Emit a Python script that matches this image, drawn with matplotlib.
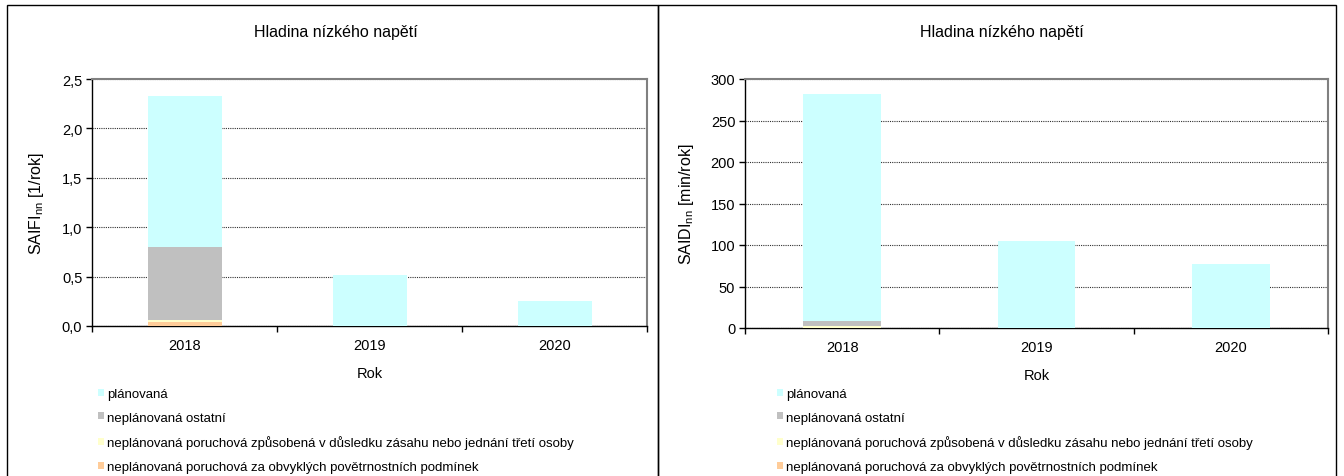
import matplotlib
matplotlib.use("Agg")
import matplotlib.pyplot as plt
from matplotlib.patches import Rectangle
from matplotlib.ticker import FixedLocator, FuncFormatter

plt.rcParams['font.family'] = ['Liberation Sans', 'DejaVu Sans']

years = ["2018", "2019", "2020"]
series_names = [
    "neplánovaná poruchová za obvyklých povětrnostních podmínek",
    "neplánovaná poruchová způsobená v důsledku zásahu nebo jednání třetí osoby",
    "neplánovaná ostatní",
    "plánovaná",
]
colors = ["#FFCC99", "#FFFFCC", "#C0C0C0", "#CCFFFF"]

saifi_pocasi = [0.04, 0.0, 0.0]
saifi_treti = [0.02, 0.0, 0.0]
saifi_ostatni = [0.74, 0.0, 0.0]
saifi_planovana = [1.53, 0.52, 0.25]

saidi_pocasi = [0.5, 0.0, 0.0]
saidi_treti = [2.0, 0.0, 0.0]
saidi_ostatni = [5.5, 0.0, 0.0]
saidi_planovana = [274.0, 105.0, 77.0]

panel_title = "Hladina nízkého napětí"
x_label = "Rok"

W, H = 1344, 477
fig = plt.figure(figsize=(W / 100, H / 100), dpi=100)


def fx(px):
    return px / W


def fy(py):
    return 1 - py / H


# panel frames
for x0, x1 in [(7, 658), (658, 1336)]:
    fig.patches.append(Rectangle((fx(x0), fy(H + 5)), fx(x1) - fx(x0), fy(6) - fy(H + 5),
                                 transform=fig.transFigure, fill=False,
                                 edgecolor="#000000", linewidth=1.0))


def draw_panel(rect, stacks, ymax, ystep, fmt, ylabel, ylabel_x, title_x, legend_x):
    ax = fig.add_axes(rect)
    x = list(range(len(years)))
    bottom = [0.0] * len(years)
    handles = []
    for vals, c, name in zip(stacks, colors, series_names):
        b = ax.bar(x, vals, width=0.4, bottom=bottom, color=c, edgecolor="none",
                   label=name, zorder=3)
        handles.append(b)
        bottom = [bb + v for bb, v in zip(bottom, vals)]
    ax.set_xlim(-0.5, len(years) - 0.5)
    ax.set_ylim(0, ymax)
    ticks = [i * ystep for i in range(int(round(ymax / ystep)) + 1)]
    ax.yaxis.set_major_locator(FixedLocator(ticks))
    ax.yaxis.set_major_formatter(FuncFormatter(fmt))
    ax.set_xticks(x)
    ax.set_xticklabels(years)
    ax.set_xticks([i - 0.5 for i in range(len(years) + 1)], minor=True)
    ax.tick_params(axis="x", which="major", length=0, pad=9, labelsize=10.5)
    ax.tick_params(axis="x", which="minor", length=4, direction="out", width=1)
    ax.tick_params(axis="y", which="major", length=4, direction="out", width=1,
                   labelsize=10.5, pad=3)
    ax.grid(axis="y", color="#303030", linestyle=(0, (1, 1)), linewidth=0.8, zorder=0)
    ax.set_axisbelow(True)
    for s in ["top", "right"]:
        ax.spines[s].set_color("#808080")
        ax.spines[s].set_linewidth(1.5)
    for s in ["left", "bottom"]:
        ax.spines[s].set_color("#000000")
        ax.spines[s].set_linewidth(1.0)
    ax.set_xlabel(x_label, fontsize=10.5, labelpad=10)
    fig.text(fx(ylabel_x), ax.get_position().y0 + ax.get_position().height / 2, ylabel,
             rotation=90, ha="center", va="center", fontsize=11.5)
    fig.text(fx(title_x), fy(33), panel_title, ha="center", va="center", fontsize=11.5)
    fig.legend(handles[::-1], series_names[::-1], loc="upper left",
               bbox_to_anchor=(fx(legend_x), fy(389)), frameon=False,
               fontsize=9.5, handlelength=0.45, handleheight=0.45,
               handletextpad=0.25, labelspacing=0.88, borderpad=0, borderaxespad=0)
    return ax


def fmt_saifi(v, pos):
    return f"{v:.1f}".replace(".", ",")


def fmt_saidi(v, pos):
    return f"{v:.0f}"


draw_panel([fx(92), fy(327), fx(647) - fx(92), fy(80) - fy(327)],
           [saifi_pocasi, saifi_treti, saifi_ostatni, saifi_planovana],
           2.5, 0.5, fmt_saifi, r"SAIFI$_{\mathregular{nn}}$ [1/rok]", 37, 336, 98)
draw_panel([fx(745), fy(329), fx(1328) - fx(745), fy(80) - fy(329)],
           [saidi_pocasi, saidi_treti, saidi_ostatni, saidi_planovana],
           300, 50, fmt_saidi, r"SAIDI$_{\mathregular{nn}}$ [min/rok]", 687, 1002, 777)

fig.savefig("out.png", dpi=100)
